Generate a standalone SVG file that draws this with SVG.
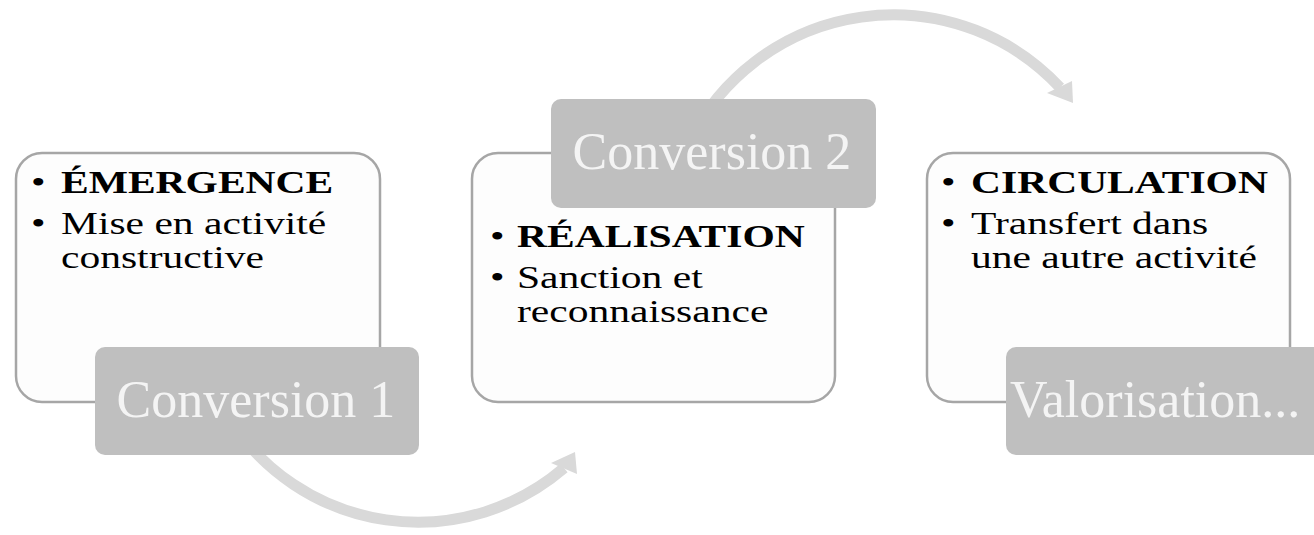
<svg xmlns="http://www.w3.org/2000/svg" width="1314" height="535" viewBox="0 0 1314 535">
<style>
.card{fill:#fdfdfd;stroke:#a6a6a6;stroke-width:2.5}
.conv{fill:#bfbfbf}
.convtxt{font-family:"Liberation Serif","Times New Roman",serif;font-size:52px;fill:#f4f4f4}
.body{font-family:"Liberation Serif","Times New Roman",serif;font-size:31px;fill:#000}
.b{font-weight:bold}
.arc{fill:none;stroke:#d9d9d9;stroke-width:11}
.head{fill:#d9d9d9}
</style>
<rect width="1314" height="535" fill="#ffffff"/>
<g id="connectors">
  <path class="arc" d="M 230 420 A 224 224 0 0 0 564 468"/>
  <polygon class="head" points="551,463 575,452 577,474"/>
  <path class="arc" d="M 690 140 A 227.6 227.6 0 0 1 1060 87.5"/>
  <polygon class="head" points="1047,93 1072,81 1073,103"/>
</g>
<g id="node1">
  <rect class="card" x="16" y="153" width="364" height="249" rx="26"/>
  <text class="body" transform="translate(31 193) scale(1.34 1)">•</text>
  <text class="body b" transform="translate(61 193) scale(1.34 1)">ÉMERGENCE</text>
  <text class="body" transform="translate(31 234) scale(1.34 1)">•</text>
  <text class="body" transform="translate(61 234) scale(1.34 1)"><tspan x="0" y="0">Mise en activité</tspan><tspan x="0" y="34.5">constructive</tspan></text>
</g>
<g id="conv1">
  <rect class="conv" x="95" y="347" width="324" height="108" rx="10"/>
  <text class="convtxt" x="256" y="417" text-anchor="middle">Conversion 1</text>
</g>
<g id="node2">
  <rect class="card" x="472" y="153" width="363" height="249" rx="26"/>
  <text class="body" transform="translate(490 247) scale(1.34 1)">•</text>
  <text class="body b" transform="translate(517 247) scale(1.34 1)">RÉALISATION</text>
  <text class="body" transform="translate(490 288) scale(1.34 1)">•</text>
  <text class="body" transform="translate(517 288) scale(1.34 1)"><tspan x="0" y="0">Sanction et</tspan><tspan x="0" y="34.5">reconnaissance</tspan></text>
</g>
<g id="conv2">
  <rect class="conv" x="551" y="99" width="325" height="109" rx="10"/>
  <text class="convtxt" x="712" y="169" text-anchor="middle">Conversion 2</text>
</g>
<g id="node3">
  <rect class="card" x="927" y="153" width="363" height="249" rx="26"/>
  <text class="body" transform="translate(941 193) scale(1.34 1)">•</text>
  <text class="body b" transform="translate(971 193) scale(1.34 1)">CIRCULATION</text>
  <text class="body" transform="translate(941 234) scale(1.34 1)">•</text>
  <text class="body" transform="translate(971 234) scale(1.34 1)"><tspan x="0" y="0">Transfert dans</tspan><tspan x="0" y="34.5">une autre activité</tspan></text>
</g>
<g id="conv3">
  <rect class="conv" x="1006" y="347" width="324" height="108" rx="10"/>
  <text class="convtxt" x="1010" y="417">Valorisation...</text>
</g>
</svg>
